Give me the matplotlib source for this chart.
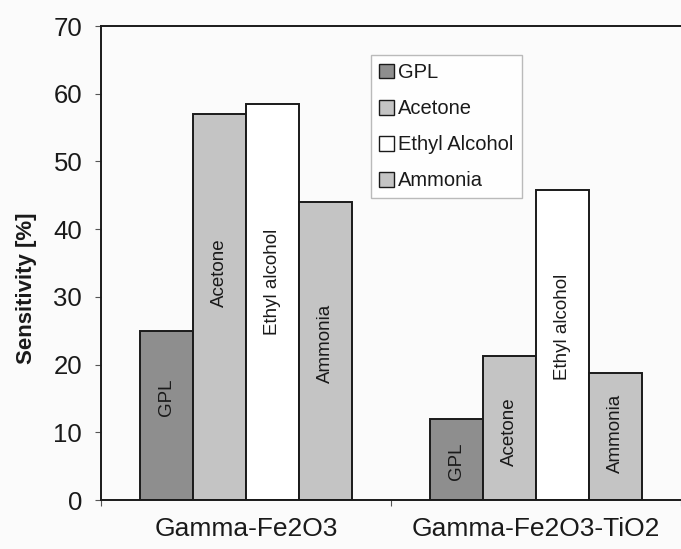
import matplotlib
matplotlib.use("Agg")
import matplotlib.pyplot as plt
from matplotlib.patches import Patch

plt.rcParams['font.family'] = ['Liberation Sans', 'DejaVu Sans']

groups = ["Gamma-Fe2O3", "Gamma-Fe2O3-TiO2"]
gases = ["GPL", "Acetone", "Ethyl Alcohol", "Ammonia"]
bar_texts = ["GPL", "Acetone", "Ethyl alcohol", "Ammonia"]
gpl = [25.0, 12.0]
acetone = [57.0, 21.3]
ethyl = [58.5, 45.8]
ammonia = [44.0, 18.8]
series = [gpl, acetone, ethyl, ammonia]

# layout (positions of in-bar text labels, in data units)
text_y = [[15.2, 33.5, 32.2, 23.2], [5.7, 10.1, 25.5, 9.9]]
bar_w = 0.1824
colors = ["#8e8e8e", "#c4c4c4", "#ffffff", "#c4c4c4"]
txt_col = "#1a1a1a"

fig = plt.figure(figsize=(6.81, 5.49), dpi=100, facecolor="#fbfbfb")
ax = fig.add_axes([101/681, 49/549, 580/681, 474/549])
ax.set_facecolor("#fbfbfb")

for i, vals in enumerate(series):
    for g in range(len(groups)):
        x = g - 2 * bar_w + i * bar_w
        ax.bar(x, vals[g], width=bar_w, align="edge", color=colors[i],
               edgecolor="#1a1a1a", linewidth=1.4, zorder=2)
        ax.text(x + bar_w / 2, text_y[g][i], bar_texts[i], rotation=90,
                ha="center", va="center", fontsize=13.5, color=txt_col, zorder=3)

ax.set_xlim(-0.5, -0.5 + 580/296)
ax.set_ylim(0, 70)
ax.set_yticks(range(0, 71, 10))
ax.tick_params(axis="y", labelsize=18.5, colors="#555555", labelcolor=txt_col,
               length=4, width=0.8, direction="out", pad=9.5)
ax.set_xticks([0, 1])
ax.set_xticklabels(groups, fontsize=19, color=txt_col)
ax.tick_params(axis="x", length=0, pad=12)
ax.set_xticks([-0.5, 0.5, 1.5], minor=True)
ax.tick_params(axis="x", which="minor", length=4, width=0.8, colors="#555555")

for s in ["left", "bottom", "top"]:
    ax.spines[s].set_color("#1a1a1a")
    ax.spines[s].set_linewidth(1.4)
ax.spines["right"].set_visible(False)

ax.set_ylabel("Sensitivity [%]", fontsize=16, fontweight="bold", color=txt_col)
ax.yaxis.set_label_coords(-64/580, 0.447)

handles = [Patch(facecolor=colors[i], edgecolor="#1a1a1a", linewidth=1.0, label=gases[i])
           for i in range(4)]
leg = ax.legend(handles=handles, loc="upper left",
                bbox_to_anchor=(371/681, 1 - 55/549), bbox_transform=fig.transFigure,
                fontsize=14.5, frameon=True, fancybox=False, edgecolor="#aaaaaa",
                handlelength=0.75, handleheight=0.75, handletextpad=0.2,
                labelspacing=0.85, borderpad=0.4, borderaxespad=0)
leg.get_frame().set_linewidth(1.0)
leg.get_frame().set_facecolor("#ffffff")
for t in leg.get_texts():
    t.set_color(txt_col)

fig.savefig("out.png", dpi=100, facecolor=fig.get_facecolor())
